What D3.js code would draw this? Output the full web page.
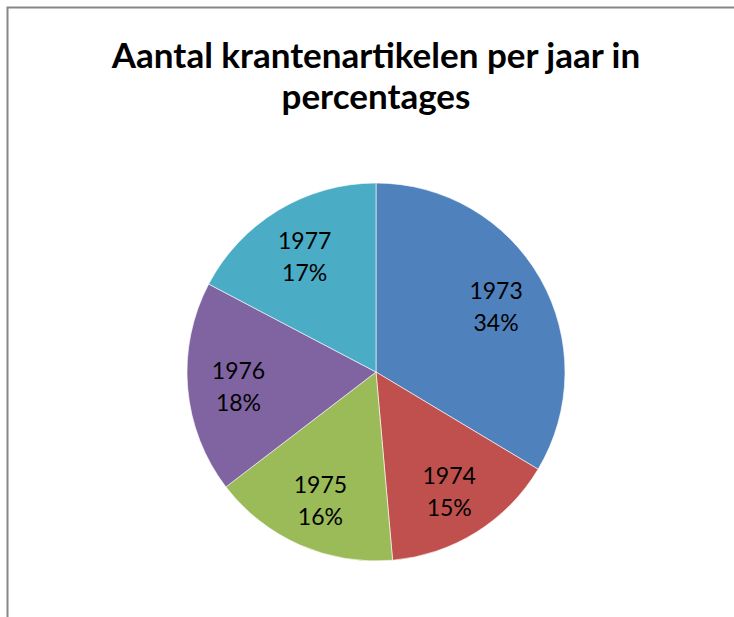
<!DOCTYPE html>
<html>
<head>
<meta charset="utf-8">
<script src="https://cdn.jsdelivr.net/npm/d3@7"></script>
<style>
  body { margin: 0; background: #fff; }
  svg { display: block; }
</style>
</head>
<body>
<script>
// data
var years = ["1973", "1974", "1975", "1976", "1977"]
var shares = [33.6, 15.0, 16.0, 18.1, 17.3]
var colors = ["#4F81BD", "#C0504D", "#9BBB59", "#8064A2", "#4BACC6"]
var titleLines = ["Aantal krantenartikelen per jaar in", "percentages"]

var svgWidth = 734
var svgHeight = 617
var cx = 376, cy = 372, radius = 189

var data = years.map((y, i) => ({year: y, value: shares[i], color: colors[i]}))

var svg = d3.select("body")
    .append("svg")
    .attr("width", svgWidth)
    .attr("height", svgHeight)

// chart area border (only top and left edges visible)
svg.append("path")
    .attr("d", "M7.5," + svgHeight + "V7.5H" + svgWidth)
    .attr("fill", "none")
    .attr("stroke", "#878787")
    .attr("stroke-width", 2)

svg.append("text")
    .attr("x", 376)
    .attr("y", 68)
    .attr("text-anchor", "middle")
    .style("font-family", "Lato, 'Open Sans', sans-serif")
    .style("font-weight", "bold")
    .style("font-size", "35px")
    .selectAll("tspan")
    .data(titleLines)
    .enter()
    .append("tspan")
    .attr("x", 376)
    .attr("dy", (d, i) => i == 0 ? 0 : 41)
    .text(d => d)

var pie = d3.pie().sort(null).value(d => d.value)
var arc = d3.arc().innerRadius(0).outerRadius(radius)
var labelArc = d3.arc().innerRadius(138).outerRadius(138)

var g = svg.append("g")
    .attr("transform", "translate(" + cx + "," + cy + ")")

g.selectAll(".slice")
    .data(pie(data))
    .enter()
    .append("path")
    .attr("class", "slice")
    .attr("d", arc)
    .attr("fill", d => d.data.color)
    .attr("stroke", "#fff")
    .attr("stroke-width", 0.6)

var labels = g.selectAll(".label")
    .data(pie(data))
    .enter()
    .append("text")
    .attr("class", "label")
    .attr("transform", d => "translate(" + labelArc.centroid(d) + ")")
    .attr("text-anchor", "middle")
    .style("font-family", "Lato, 'Open Sans', sans-serif")
    .style("font-size", "23px")
    .attr("fill", "#000")

labels.append("tspan")
    .attr("x", 0)
    .attr("y", -5)
    .text(d => d.data.year)
labels.append("tspan")
    .attr("x", 0)
    .attr("y", 27)
    .text(d => Math.round(d.data.value) + "%")
</script>
</body>
</html>
